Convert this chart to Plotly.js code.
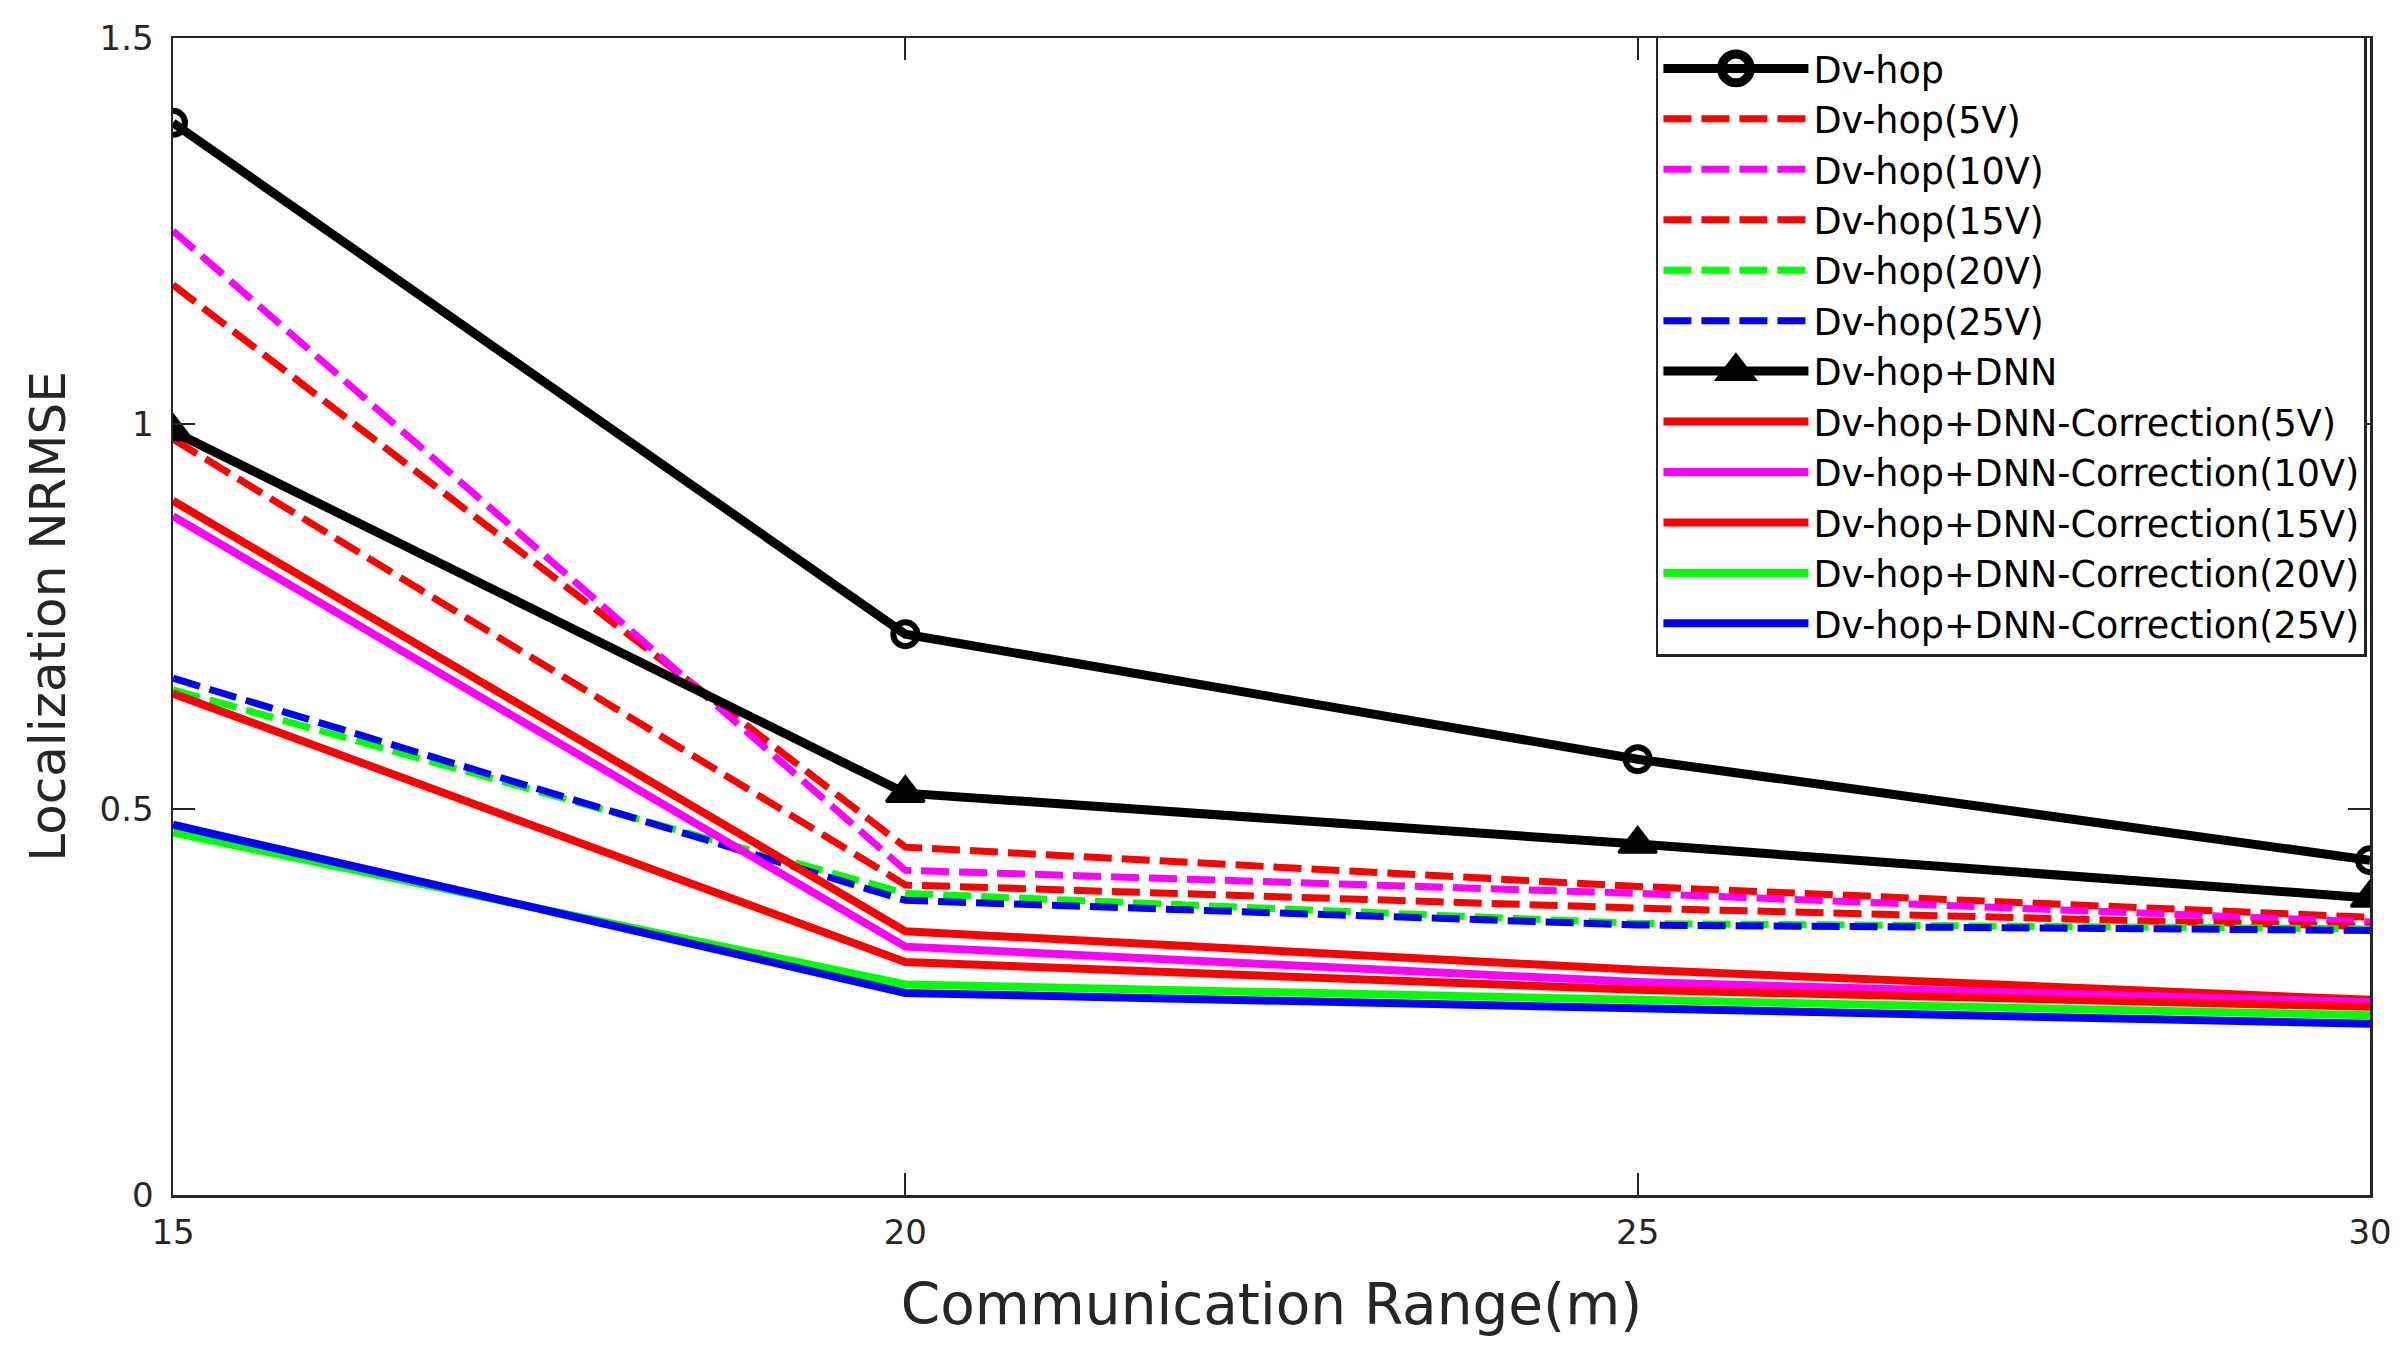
<!DOCTYPE html>
<html><head><meta charset="utf-8">
<script src="https://cdn.plot.ly/plotly-3.0.1.min.js"></script>
<style>html,body{margin:0;padding:0;background:#fff;} #chart{width:2406px;height:1350px;}</style>
</head><body><div id="chart"></div>
<script>
// Data
const ranges = [15, 20, 25, 30];
const dvhop     = [1.39, 0.727, 0.565, 0.434];
const dvhop5V   = [1.18, 0.451, 0.400, 0.360];
const dvhop10V  = [1.25, 0.421, 0.391, 0.354];
const dvhop15V  = [0.98, 0.402, 0.372, 0.348];
const dvhop20V  = [0.655, 0.391, 0.352, 0.345];
const dvhop25V  = [0.67, 0.382, 0.350, 0.343];
const dvhopDNN  = [0.99, 0.521, 0.455, 0.385];
const corr5V    = [0.90, 0.342, 0.292, 0.253];
const corr10V   = [0.88, 0.322, 0.276, 0.250];
const corr15V   = [0.65, 0.302, 0.266, 0.244];
const corr20V   = [0.47, 0.273, 0.253, 0.233];
const corr25V   = [0.48, 0.262, 0.242, 0.222];
const seriesNames = ['Dv-hop','Dv-hop(5V)','Dv-hop(10V)','Dv-hop(15V)','Dv-hop(20V)','Dv-hop(25V)',
  'Dv-hop+DNN','Dv-hop+DNN-Correction(5V)','Dv-hop+DNN-Correction(10V)','Dv-hop+DNN-Correction(15V)',
  'Dv-hop+DNN-Correction(20V)','Dv-hop+DNN-Correction(25V)'];
const xTickVals = [15, 20, 25, 30];
const yTickVals = [0, 0.5, 1, 1.5];
const yTickText = ['0', '0.5', '1', '1.5'];

const seriesValues = [dvhop, dvhop5V, dvhop10V, dvhop15V, dvhop20V, dvhop25V,
  dvhopDNN, corr5V, corr10V, corr15V, corr20V, corr25V];
const colors = ['#000000','#FF0000','#FF00FF','#FF0000','#00FF00','#0000FF',
  '#000000','#FF0000','#FF00FF','#FF0000','#00FF00','#0000FF'];
const dashes = ['solid','28px,10px','28px,10px','28px,10px','28px,10px','28px,10px',
  'solid','solid','solid','solid','solid','solid'];

const traces = seriesValues.map((vals, i) => {
  const isBlack = colors[i] === '#000000';
  const t = {
    x: ranges, y: vals, name: seriesNames[i], type: 'scatter',
    mode: 'lines',
    line: {color: colors[i], width: isBlack ? 9 : (dashes[i] === 'solid' ? 8 : 7), dash: dashes[i]}
  };
  if (i === 0) {
    t.mode = 'lines+markers';
    t.marker = {symbol: 'circle-open', size: 24, color: '#000', line: {width: 6, color: '#000'}};
  }
  if (i === 6) {
    t.mode = 'lines+markers';
    t.marker = {symbol: 'triangle-up', size: 33, color: '#000', line: {width: 3, color: '#000'}};
  }
  return t;
});

const axisColor = '#262626';
const textFamily = '"DejaVu Sans", Verdana, sans-serif';
const tickFont = {family: textFamily, size: 34, color: axisColor};

const layout = {
  width: 2406, height: 1350,
  paper_bgcolor: '#fff', plot_bgcolor: '#fff',
  margin: {l: 173, r: 36, t: 38, b: 155, pad: 0},
  showlegend: true,
  xaxis: {
    range: [15, 30], tickvals: xTickVals, ticktext: xTickVals.map(String),
    ticks: 'inside', ticklen: 22, tickwidth: 2, tickcolor: axisColor,
    showline: true, linecolor: axisColor, linewidth: 2.5, mirror: 'ticks',
    showgrid: false, zeroline: false, tickfont: tickFont, ticklabelstandoff: 6,
    title: {text: 'Communication Range(m)', font: {family: textFamily, size: 56.5, color: axisColor}, standoff: 33}
  },
  yaxis: {
    range: [0, 1.5], tickvals: yTickVals, ticktext: yTickText,
    ticks: 'inside', ticklen: 22, tickwidth: 2, tickcolor: axisColor,
    showline: true, linecolor: axisColor, linewidth: 2.5, mirror: 'ticks',
    showgrid: false, zeroline: false, tickfont: tickFont, ticklabelstandoff: 10,
    title: {text: 'Localization NRMSE', font: {family: textFamily, size: 50, color: axisColor}, standoff: 18}
  },
  legend: {
    x: 0.9986, y: 1.002, xanchor: 'right', yanchor: 'top',
    bgcolor: '#fff', bordercolor: axisColor, borderwidth: 2.5,
    font: {family: textFamily, size: 36.5, color: '#000'},
    itemwidth: 145, tracegroupgap: 0
  }
};

Plotly.newPlot('chart', traces, layout, {displayModeBar: false, staticPlot: true}).then(gd => {
  // enlarge the legend symbols (Plotly caps legend marker size)
  gd.querySelectorAll('.legend .legendpoints path.scatterpts').forEach(p => {
    const tr = p.getAttribute('transform') || '';
    p.setAttribute('transform', tr + ' scale(1.8)');
  });
});
</script>
</body></html>
